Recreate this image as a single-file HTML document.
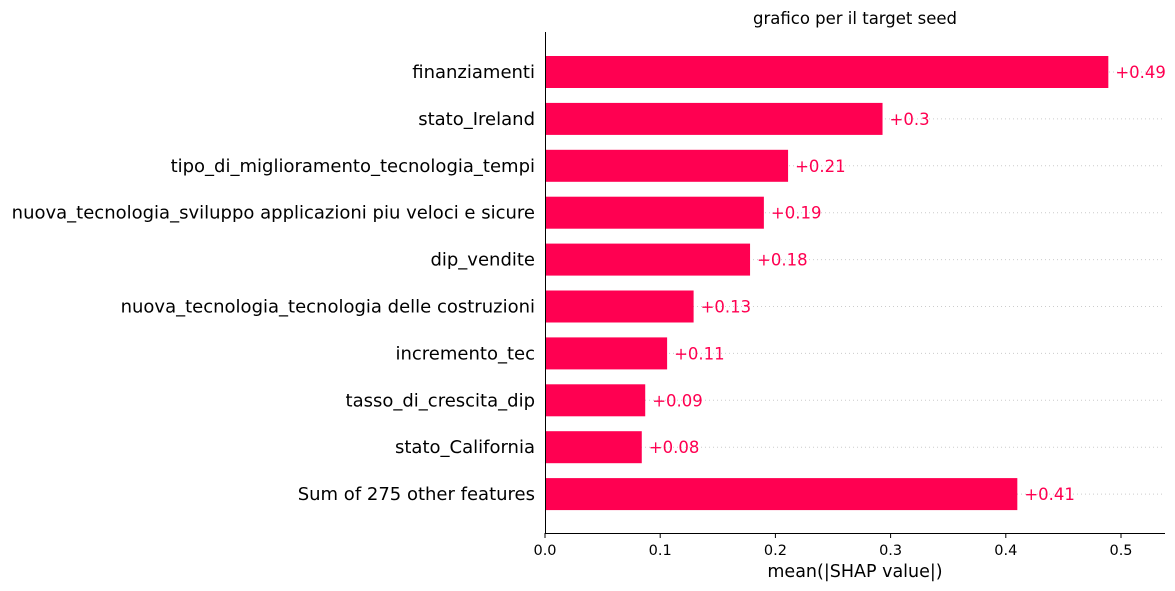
<!DOCTYPE html>
<html><head><meta charset="utf-8"><style>
body{margin:0;background:#fff;}
svg{display:block;font-family:"DejaVu Sans","Liberation Sans",sans-serif;}
</style></head><body>
<svg id="chart" width="1175" height="591">
<text x="855" y="24" font-size="16.5" text-anchor="middle" fill="#000">grafico per il target seed</text>
<g id="grid"></g>
<g id="bars"></g>
<g id="axes"></g>
<text x="855" y="577" font-size="17.5" text-anchor="middle" fill="#000">mean(|SHAP value|)</text>
</svg>
<script>
const categories=["finanziamenti","stato_Ireland","tipo_di_miglioramento_tecnologia_tempi","nuova_tecnologia_sviluppo applicazioni piu veloci e sicure","dip_vendite","nuova_tecnologia_tecnologia delle costruzioni","incremento_tec","tasso_di_crescita_dip","stato_California","Sum of 275 other features"];
const values=[0.489,0.293,0.211,0.190,0.178,0.129,0.106,0.087,0.084,0.410];
const valueLabels=["+0.49","+0.3","+0.21","+0.19","+0.18","+0.13","+0.11","+0.09","+0.08","+0.41"];
const ticks=[0,0.1,0.2,0.3,0.4,0.5];
const tickLabels=["0.0","0.1","0.2","0.3","0.4","0.5"];
const NS="http://www.w3.org/2000/svg";
const x0=545,pxPer=1152,plotTop=32,plotBottom=533,plotRight=1165;
const xs=v=>x0+v*pxPer;
const ys=i=>72+i*46.9;
function mk(tag,attrs,parent,text){const e=document.createElementNS(NS,tag);for(const k in attrs)e.setAttribute(k,attrs[k]);if(text!==undefined)e.textContent=text;parent.appendChild(e);return e;}
const grid=document.getElementById('grid'),bars=document.getElementById('bars'),axes=document.getElementById('axes');
categories.forEach((c,i)=>{
 const y=ys(i);
 const g=mk('line',{x1:x0,x2:plotRight,y1:y,y2:y,stroke:'#ccc','stroke-width':1,'stroke-dasharray':'1,3'},grid);
 
 
 const r=mk('rect',{x:x0,y:y-16,width:xs(values[i])-x0,height:32,fill:'#ff0051'},bars);
 
 
 const v=mk('text',{x:xs(values[i])+7,y:y+6,'font-size':16.5,fill:'#ff0051'},bars,valueLabels[i]);
 
 
 const l=mk('text',{x:535,y:y+6,'font-size':18,'text-anchor':'end',fill:'#000'},axes,c);
 
 
});
const yl=mk('line',{x1:x0+0.5,x2:x0+0.5,y1:plotTop,y2:plotBottom,stroke:'#000','stroke-width':1},axes);


const xl=mk('line',{x1:x0,x2:plotRight,y1:plotBottom+0.5,y2:plotBottom+0.5,stroke:'#000','stroke-width':1},axes);


ticks.forEach((t,i)=>{
 const tk=mk('line',{x1:xs(t),x2:xs(t),y1:plotBottom,y2:plotBottom+5,stroke:'#000'},axes);
 
 
 const tl=mk('text',{x:xs(t),y:plotBottom+22,'font-size':14.5,'text-anchor':'middle',fill:'#000'},axes,tickLabels[i]);
 
 
});
</script>
</body></html>
